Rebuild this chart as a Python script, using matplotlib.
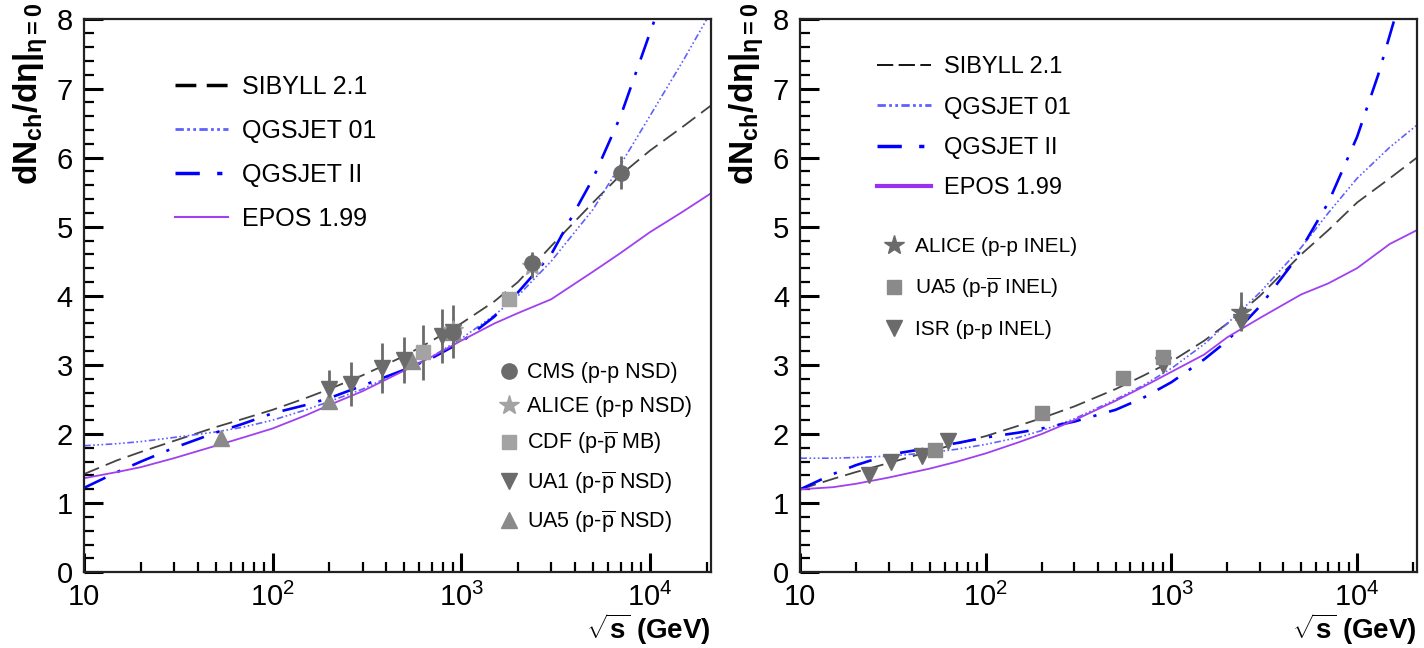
import numpy as np
import matplotlib
matplotlib.use("Agg")
import matplotlib.pyplot as plt
from matplotlib.ticker import LogLocator, NullFormatter, MultipleLocator
from matplotlib.lines import Line2D

plt.rcParams['font.family'] = ['Liberation Sans', 'DejaVu Sans']
plt.rcParams['mathtext.fontset'] = 'custom'
plt.rcParams['mathtext.rm'] = 'Liberation Sans'
plt.rcParams['mathtext.it'] = 'Liberation Sans:italic'
plt.rcParams['mathtext.bf'] = 'Liberation Sans:bold'

# -------------------------------
# Model curves (sqrt(s) in GeV)
# -------------------------------
sqrt_s = [10, 15, 20, 30, 50, 70, 100, 150, 200, 300, 500, 700, 1000,
          1500, 2000, 3000, 5000, 7000, 10000, 15000, 21000]

# left panel: NSD
nsd_sibyll = [1.42, 1.62, 1.74, 1.90, 2.10, 2.22, 2.35, 2.52, 2.65, 2.85, 3.13, 3.35, 3.60,
              3.92, 4.20, 4.72, 5.35, 5.75, 6.10, 6.45, 6.75]
nsd_qgs01 = [1.83, 1.86, 1.89, 1.95, 2.03, 2.10, 2.20, 2.35, 2.47, 2.65, 2.93, 3.12, 3.38,
             3.72, 4.00, 4.50, 5.25, 5.90, 6.60, 7.40, 8.10]
nsd_epos = [1.36, 1.45, 1.52, 1.65, 1.83, 1.95, 2.08, 2.27, 2.42, 2.62, 2.92, 3.12, 3.35,
            3.60, 3.75, 3.95, 4.35, 4.62, 4.92, 5.22, 5.48]
qgs2_x_nsd = [10, 15, 20, 30, 50, 70, 100, 150, 200, 300, 500, 700, 1000,
              1500, 2000, 3000, 5000, 7000, 10000, 12000]
nsd_qgs2 = [1.22, 1.45, 1.60, 1.80, 2.02, 2.15, 2.30, 2.42, 2.52, 2.70, 2.93, 3.10, 3.33,
            3.70, 4.05, 4.60, 5.70, 6.60, 7.80, 8.40]

# right panel: INEL
inel_sibyll = [1.20, 1.35, 1.45, 1.58, 1.75, 1.86, 1.97, 2.12, 2.23, 2.40, 2.65, 2.84, 3.05,
               3.35, 3.60, 4.00, 4.60, 4.95, 5.35, 5.70, 6.00]
inel_qgs01 = [1.65, 1.65, 1.66, 1.68, 1.73, 1.78, 1.85, 1.95, 2.05, 2.22, 2.50, 2.70, 2.95,
              3.30, 3.60, 4.05, 4.70, 5.20, 5.70, 6.15, 6.47]
inel_epos = [1.20, 1.23, 1.28, 1.37, 1.50, 1.60, 1.72, 1.88, 2.00, 2.20, 2.48, 2.68, 2.90,
             3.15, 3.40, 3.68, 4.02, 4.18, 4.40, 4.75, 4.95]
qgs2_x_inel = [10, 15, 20, 30, 50, 70, 100, 150, 200, 300, 500, 700, 1000,
               1500, 2000, 3000, 4500, 7000, 10000, 13000, 16500]
inel_qgs2 = [1.20, 1.42, 1.55, 1.70, 1.80, 1.87, 1.95, 2.02, 2.08, 2.18, 2.35, 2.52, 2.75,
             3.08, 3.35, 3.85, 4.47, 5.35, 6.30, 7.20, 8.15]

# -------------------------------
# Measurements
# -------------------------------
cms_x = [900, 2360, 7000]
cms_y = [3.48, 4.47, 5.78]
cms_err = [0.17, 0.17, 0.24]

alice_nsd_x = [900, 2360]
alice_nsd_y = [3.51, 4.43]
alice_nsd_err = [0.15, 0.17]

cdf_x = [630, 1800]
cdf_y = [3.18, 3.95]
cdf_err = [0.4, 0.1]

ua1_x = [200, 260, 380, 500, 790, 900]
ua1_y = [2.65, 2.72, 2.95, 3.07, 3.42, 3.48]
ua1_err = [0.28, 0.32, 0.36, 0.33, 0.39, 0.38]

ua5_nsd_x = [53, 200, 546, 900]
ua5_nsd_y = [1.94, 2.48, 3.05, 3.48]

alice_inel_x = [2360]
alice_inel_y = [3.77]
alice_inel_err = [0.28]

ua5_inel_x = [53, 200, 546, 900]
ua5_inel_y = [1.77, 2.30, 2.81, 3.12]

isr_x = [23.6, 30.8, 45.2, 62.7, 900, 2360]
isr_y = [1.40, 1.60, 1.68, 1.90, 3.00, 3.62]

tick_vals = [10, 100, 1000, 10000]
tick_text = ['10', r'$\mathregular{10^{2}}$', r'$\mathregular{10^{3}}$', r'$\mathregular{10^{4}}$']

sib_style = dict(color='#444444', lw=1.3, dashes=(9, 4))
q01_style = dict(color='#6060ff', lw=1.2, dashes=(4, 1.5, 1, 1.5, 1, 1.5, 1, 1.5))
q2_style = dict(color='#0000ff', lw=1.9, dashes=(9, 5, 1.2, 5))
epos_style = dict(color='#a040f0', lw=1.3)

dark = '#6b6b6b'
light = '#a3a3a3'
mid = '#8a8a8a'


def style_axes(ax):
    ax.set_xscale('log')
    ax.set_xlim(10, 2.1e4)
    ax.set_ylim(0, 8)
    ax.set_xticks(tick_vals)
    ax.set_xticklabels(tick_text)
    ax.xaxis.set_minor_locator(LogLocator(base=10, subs=range(2, 10)))
    ax.xaxis.set_minor_formatter(NullFormatter())
    ax.yaxis.set_major_locator(MultipleLocator(1))
    ax.yaxis.set_minor_locator(MultipleLocator(0.2))
    ax.tick_params(which='both', direction='in', top=False, right=False,
                   labelsize=21, colors='black')
    ax.tick_params(which='major', length=14, width=2.2, pad=8)
    ax.tick_params(which='minor', length=7, width=1.6)
    for sp in ax.spines.values():
        sp.set_linewidth(1.6)
        sp.set_color('#222222')
    ax.set_ylabel(r'$\mathbf{dN_{ch}/d\eta|_{\eta=0}}$', fontsize=24, loc='top')
    ax.yaxis.set_label_coords(-0.055, 1.03)
    ax.set_xlabel(r'$\mathbf{\sqrt{s}}$ (GeV)', fontsize=20, fontweight='bold', loc='right')
    ax.xaxis.set_label_coords(1.0, -0.07)


fig = plt.figure(figsize=(14.24, 6.48), dpi=100)
ax1 = fig.add_axes([0.059, 0.117, 0.440, 0.853])
ax2 = fig.add_axes([0.562, 0.117, 0.433, 0.853])

# ---------- left panel ----------
l1, = ax1.plot(sqrt_s, nsd_sibyll, **sib_style)
l2, = ax1.plot(sqrt_s, nsd_qgs01, **q01_style)
l3, = ax1.plot(qgs2_x_nsd, nsd_qgs2, **q2_style)
l4, = ax1.plot(sqrt_s, nsd_epos, **epos_style)

eb = dict(fmt='none', ecolor=dark, elinewidth=2, capsize=0)
ax1.errorbar(ua1_x, ua1_y, yerr=ua1_err, **eb)
ax1.errorbar(cdf_x, cdf_y, yerr=cdf_err, **eb)
ax1.errorbar(cms_x, cms_y, yerr=cms_err, **eb)
ax1.errorbar(alice_nsd_x, alice_nsd_y, yerr=alice_nsd_err, **eb)
m_ua5, = ax1.plot(ua5_nsd_x, ua5_nsd_y, '^', color=mid, ms=11, ls='none')
m_ua1, = ax1.plot(ua1_x, ua1_y, 'v', color=dark, ms=11, ls='none')
m_cdf, = ax1.plot(cdf_x, cdf_y, 's', color=light, ms=10, ls='none')
m_alice, = ax1.plot(alice_nsd_x, alice_nsd_y, '*', color=light, ms=15, ls='none')
m_cms, = ax1.plot(cms_x, cms_y, 'o', color=dark, ms=11, ls='none')

h_sib = Line2D([], [], color='black', lw=2.5, dashes=(6, 3))
h_q01 = Line2D([], [], color='#6060ff', lw=2, dashes=(3, 1.2, 1, 1.2, 1, 1.2))
h_q2 = Line2D([], [], color='#0000ff', lw=2.5, dashes=(7, 5, 1.5, 5))
h_epos = Line2D([], [], color='#a040f0', lw=1.5)

leg1 = ax1.legend([h_sib, h_q01, h_q2, h_epos],
                  ['SIBYLL 2.1', 'QGSJET 01', 'QGSJET II', 'EPOS 1.99'],
                  loc='upper left', bbox_to_anchor=(0.11, 0.94), frameon=False,
                  fontsize=18, handlelength=2.1, handletextpad=0.55, labelspacing=0.8)
ax1.add_artist(leg1)
ax1.legend([m_cms, m_alice, m_cdf, m_ua1, m_ua5],
           ['CMS (p-p NSD)', 'ALICE (p-p NSD)', r'CDF (p-$\mathregular{\overline{p}}$ MB)',
            r'UA1 (p-$\mathregular{\overline{p}}$ NSD)', r'UA5 (p-$\mathregular{\overline{p}}$ NSD)'],
           loc='upper left', bbox_to_anchor=(0.63, 0.415), frameon=False,
           fontsize=15.5, handlelength=1.0, handletextpad=0.35, labelspacing=0.6)

# ---------- right panel ----------
r1, = ax2.plot(sqrt_s, inel_sibyll, **sib_style)
r2, = ax2.plot(sqrt_s, inel_qgs01, **q01_style)
r3, = ax2.plot(qgs2_x_inel, inel_qgs2, **q2_style)
r4, = ax2.plot(sqrt_s, inel_epos, **epos_style)

ax2.errorbar(alice_inel_x, alice_inel_y, yerr=alice_inel_err, **eb)
n_isr, = ax2.plot(isr_x, isr_y, 'v', color=dark, ms=11, ls='none')
n_ua5, = ax2.plot(ua5_inel_x, ua5_inel_y, 's', color=mid, ms=10, ls='none')
n_alice, = ax2.plot(alice_inel_x, alice_inel_y, '*', color=dark, ms=15, ls='none')

h_sib2 = Line2D([], [], color='black', lw=1.3, dashes=(9, 3))
h_epos2 = Line2D([], [], color='#9a30f0', lw=3)
leg2 = ax2.legend([h_sib2, h_q01, h_q2, h_epos2],
                  ['SIBYLL 2.1', 'QGSJET 01', 'QGSJET II', 'EPOS 1.99'],
                  loc='upper left', bbox_to_anchor=(0.09, 0.972), frameon=False,
                  fontsize=17, handlelength=2.3, handletextpad=0.55, labelspacing=0.78)
ax2.add_artist(leg2)
ax2.legend([n_alice, n_ua5, n_isr],
           ['ALICE (p-p INEL)', r'UA5 (p-$\mathregular{\overline{p}}$ INEL)', 'ISR (p-p INEL)'],
           loc='upper left', bbox_to_anchor=(0.105, 0.64), frameon=False,
           fontsize=15, handlelength=1.0, handletextpad=0.5, labelspacing=0.95)

style_axes(ax1)
style_axes(ax2)

fig.savefig('out.png', dpi=100)
